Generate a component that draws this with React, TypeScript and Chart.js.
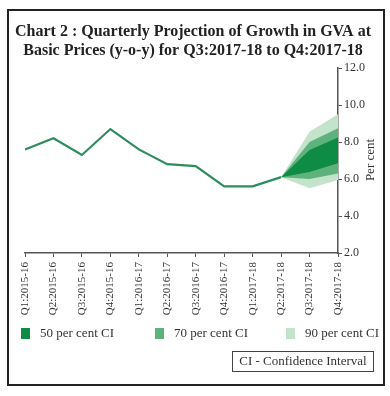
import React, { useEffect, useRef } from "react";
import { Chart, registerables } from "chart.js";

Chart.register(...registerables);

const categories = [
  "Q1:2015-16", "Q2:2015-16", "Q3:2015-16", "Q4:2015-16",
  "Q1:2016-17", "Q2:2016-17", "Q3:2016-17", "Q4:2016-17",
  "Q1:2017-18", "Q2:2017-18", "Q3:2017-18", "Q4:2017-18",
];
const gvaGrowth = [7.6, 8.2, 7.3, 8.7, 7.6, 6.8, 6.7, 5.6, 5.6, 6.1, null, null];
const ci50Upper = [null, null, null, null, null, null, null, null, null, 6.1, 7.57, 8.25];
const ci50Lower = [null, null, null, null, null, null, null, null, null, 6.1, 6.38, 6.85];
const ci70Upper = [null, null, null, null, null, null, null, null, null, 6.1, 8.0, 8.74];
const ci70Lower = [null, null, null, null, null, null, null, null, null, 6.1, 6.0, 6.3];
const ci90Upper = [null, null, null, null, null, null, null, null, null, 6.1, 8.55, 9.5];
const ci90Lower = [null, null, null, null, null, null, null, null, null, 6.1, 5.5, 5.95];
const yTicks = [2, 4, 6, 8, 10, 12];

const titleLines = [
  "Chart 2 : Quarterly Projection of Growth in GVA at",
  "Basic Prices (y-o-y) for Q3:2017-18 to Q4:2017-18",
];
const legendItems = ["50 per cent CI", "70 per cent CI", "90 per cent CI"];

const C50 = "#0e8c45";
const C70 = "#5eb37c";
const C90 = "#c3e3cb";
const LINE = "#2e8c5e";
const AXIS = "#555555";
const SERIF = "'Liberation Serif', 'DejaVu Serif', serif";

const decorPlugin = {
  id: "decor",
  beforeDraw(chart: any) {
    const ctx = chart.ctx;
    ctx.save();
    ctx.fillStyle = "#ffffff";
    ctx.fillRect(0, 0, chart.width, chart.height);
    ctx.restore();
  },
  afterDraw(chart: any) {
    const ctx = chart.ctx;
    ctx.save();
    // outer frame
    ctx.strokeStyle = "#222222";
    ctx.lineWidth = 2;
    ctx.strokeRect(8, 10, 376, 375);
    // title
    ctx.fillStyle = "#222222";
    ctx.font = `bold 16px ${SERIF}`;
    ctx.textAlign = "center";
    ctx.textBaseline = "alphabetic";
    ctx.fillText(titleLines[0], 193, 36);
    ctx.fillText(titleLines[1], 193, 55);
    // y axis title, reading bottom to top
    ctx.save();
    ctx.translate(371, 160);
    ctx.rotate(-Math.PI / 2);
    ctx.font = `13px ${SERIF}`;
    ctx.textBaseline = "middle";
    ctx.fillStyle = "#333333";
    ctx.fillText("Per cent", 0, 0);
    ctx.restore();
    // legend
    const colors = [C50, C70, C90];
    const xs = [21, 155, 286];
    ctx.font = `13px ${SERIF}`;
    ctx.textAlign = "left";
    ctx.textBaseline = "middle";
    legendItems.forEach((label, i) => {
      ctx.fillStyle = colors[i];
      ctx.fillRect(xs[i], 328, 9, 11);
      ctx.fillStyle = "#333333";
      ctx.fillText(label, xs[i] + 19, 333.5);
    });
    // CI box
    ctx.strokeStyle = "#444444";
    ctx.lineWidth = 1;
    ctx.strokeRect(232.5, 351.5, 141, 20);
    ctx.textAlign = "center";
    ctx.fillStyle = "#333333";
    ctx.fillText("CI - Confidence Interval", 303, 362);
    ctx.restore();
  },
};

const band = (data: (number | null)[], color: string, fillTarget: number | false, order: number) => ({
  data,
  borderWidth: 0,
  borderColor: color,
  backgroundColor: color,
  pointRadius: 0,
  fill: fillTarget === false ? false : fillTarget,
  order,
  spanGaps: false,
});

export default function App() {
  const ref = useRef<HTMLCanvasElement | null>(null);
  useEffect(() => {
    if (!ref.current) return;
    const chart = new Chart(ref.current, {
      type: "line",
      data: {
        labels: categories,
        datasets: [
          {
            data: gvaGrowth,
            borderColor: LINE,
            borderWidth: 2.2,
            pointRadius: 0,
            fill: false,
            order: 0,
          } as any,
          band(ci50Upper, C50, 2, 1),
          band(ci50Lower, C50, false, 1),
          band(ci70Upper, C70, 4, 2),
          band(ci70Lower, C70, false, 2),
          band(ci90Upper, C90, 6, 3),
          band(ci90Lower, C90, false, 3),
        ],
      },
      options: {
        animation: false,
        responsive: false,
        events: [],
        layout: { padding: { left: 25, top: 68, right: 10, bottom: 78 } },
        plugins: {
          legend: { display: false },
          title: { display: false },
          tooltip: { enabled: false },
        },
        scales: {
          x: {
            offset: false,
            grid: { display: true, drawOnChartArea: false, tickLength: 4, color: AXIS },
            border: { display: true, color: AXIS, width: 1.5 },
            ticks: {
              autoSkip: false,
              maxRotation: 90,
              minRotation: 90,
              padding: 5,
              color: "#333333",
              font: { family: SERIF, size: 11 },
            },
            afterFit: (scale: any) => {
              scale.height = 65;
            },
          },
          y: {
            position: "right",
            min: 2,
            max: 12,
            afterBuildTicks: (scale: any) => {
              scale.ticks = yTicks.map((v) => ({ value: v }));
            },
            grid: { display: true, drawOnChartArea: false, tickLength: 4, color: AXIS },
            border: { display: true, color: AXIS, width: 1.5 },
            ticks: {
              padding: 2,
              color: "#333333",
              font: { family: SERIF, size: 12 },
              callback: (v: any) => Number(v).toFixed(1),
            },
            afterFit: (scale: any) => {
              scale.width = 42;
            },
          },
        },
      } as any,
      plugins: [decorPlugin],
    });
    return () => chart.destroy();
  }, []);
  return (
    <div style={{ position: "fixed", left: 0, top: 0, width: 390, height: 396, background: "#fff" }}>
      <canvas ref={ref} width={390} height={396} style={{ width: 390, height: 396, display: "block" }} />
    </div>
  );
}
